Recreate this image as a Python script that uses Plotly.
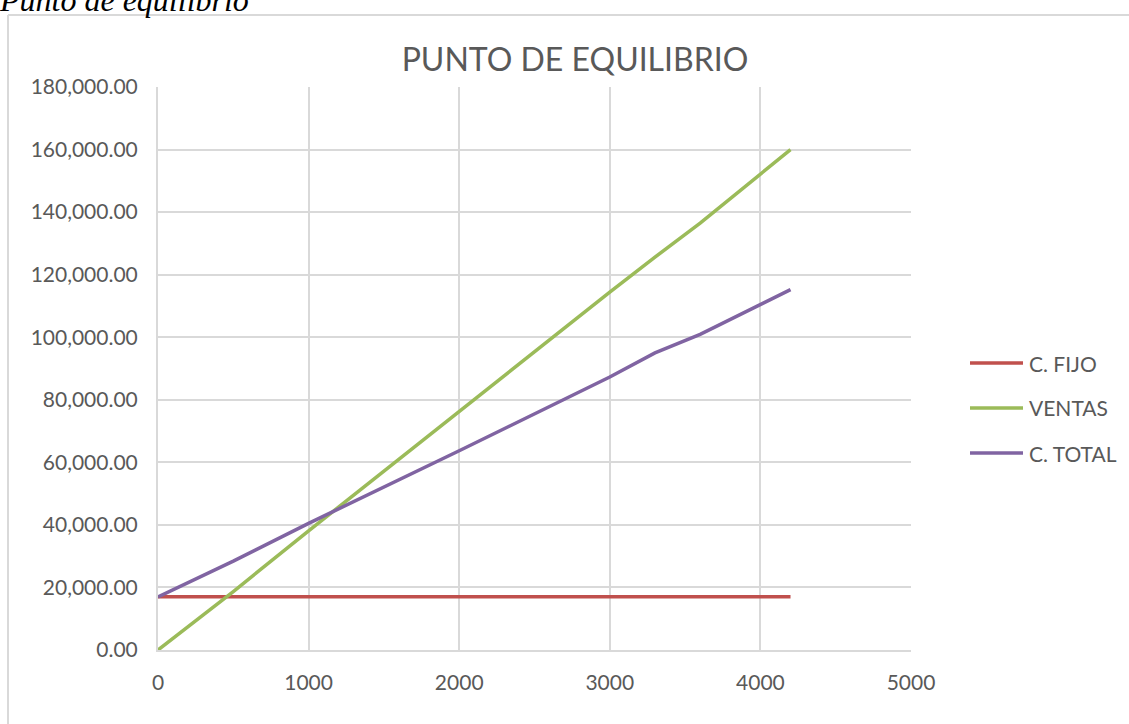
import plotly.graph_objects as go

# Units produced / sold
unidades = [0, 500, 1000, 2000, 3000, 3300, 3600, 4200]
# Fixed cost, sales revenue and total cost for each volume
c_fijo = [17000, 17000, 17000, 17000, 17000, 17000, 17000, 17000]
ventas = [0, 18700, 38100, 76400, 114400, 125600, 136500, 160000]
c_total = [17000, 28400, 40500, 63700, 87300, 95000, 100900, 115200]

series_names = ["C. FIJO", "VENTAS", "C. TOTAL"]
series_values = [c_fijo, ventas, c_total]
series_colors = ["#C0504D", "#9BBB59", "#8064A2"]

W, H = 1129, 724
L, R, T, B = 158, 911, 87, 650  # plot area edges in pixels

FONT = "Lato"
GREY_TXT = "#595959"
GRID = "#D9D9D9"


def px_x(p):
    return (p - L) / (R - L)


def px_y(p):
    return (B - p) / (B - T)


fig = go.Figure()
for name, vals, col in zip(series_names, series_values, series_colors):
    fig.add_trace(go.Scatter(
        x=unidades, y=vals, name=name, mode="lines",
        line=dict(color=col, width=3.5), showlegend=False,
    ))

shapes = [
    # chart frame (left and top edges)
    dict(type="line", xref="paper", yref="paper",
         x0=px_x(8), x1=px_x(8), y0=px_y(15), y1=px_y(740),
         line=dict(color=GRID, width=2)),
    dict(type="line", xref="paper", yref="paper",
         x0=px_x(8), x1=px_x(1135), y0=px_y(15), y1=px_y(15),
         line=dict(color=GRID, width=2)),
]
annotations = [
    dict(text="Punto de equilibrio", xref="paper", yref="paper",
         x=px_x(-3), y=px_y(0), xanchor="left", yanchor="middle",
         showarrow=False,
         font=dict(family="Liberation Serif", size=32, color="#000000",
                   style="italic")),
]

# legend drawn on the right, one row per series
rows_y = [363, 408, 453]
for name, col, ry in zip(series_names, series_colors, rows_y):
    shapes.append(dict(type="line", xref="paper", yref="paper",
                       x0=px_x(970), x1=px_x(1023), y0=px_y(ry), y1=px_y(ry),
                       line=dict(color=col, width=3.5)))
    annotations.append(dict(text=name, xref="paper", yref="paper",
                            x=px_x(1027), y=px_y(ry), xanchor="left",
                            yanchor="middle", showarrow=False,
                            font=dict(family=FONT, size=21, color=GREY_TXT)))

fig.update_layout(
    width=W, height=H,
    margin=dict(l=L, r=W - R, t=T, b=H - B, pad=0),
    paper_bgcolor="white", plot_bgcolor="white",
    font=dict(family=FONT, size=21, color=GREY_TXT),
    title=dict(text="PUNTO DE EQUILIBRIO", x=px_x(575), xref="paper",
               xanchor="center", y=1 - 60 / H, yref="container",
               yanchor="middle",
               font=dict(family=FONT, size=32, color=GREY_TXT)),
    shapes=shapes,
    annotations=annotations,
)
fig.update_xaxes(range=[0, 5000], dtick=1000, tick0=0, tickformat="d",
                 showgrid=True, gridcolor=GRID, gridwidth=2,
                 showline=True, linecolor=GRID, linewidth=2,
                 zeroline=False, ticks="", ticklabelstandoff=13,
                 fixedrange=True)
fig.update_yaxes(range=[0, 180000], dtick=20000, tick0=0, tickformat=",.2f",
                 showgrid=True, gridcolor=GRID, gridwidth=2,
                 showline=True, linecolor=GRID, linewidth=2,
                 zeroline=False, ticks="", ticklabelstandoff=14,
                 fixedrange=True)

fig.write_html("out.html", config=dict(displayModeBar=False))
